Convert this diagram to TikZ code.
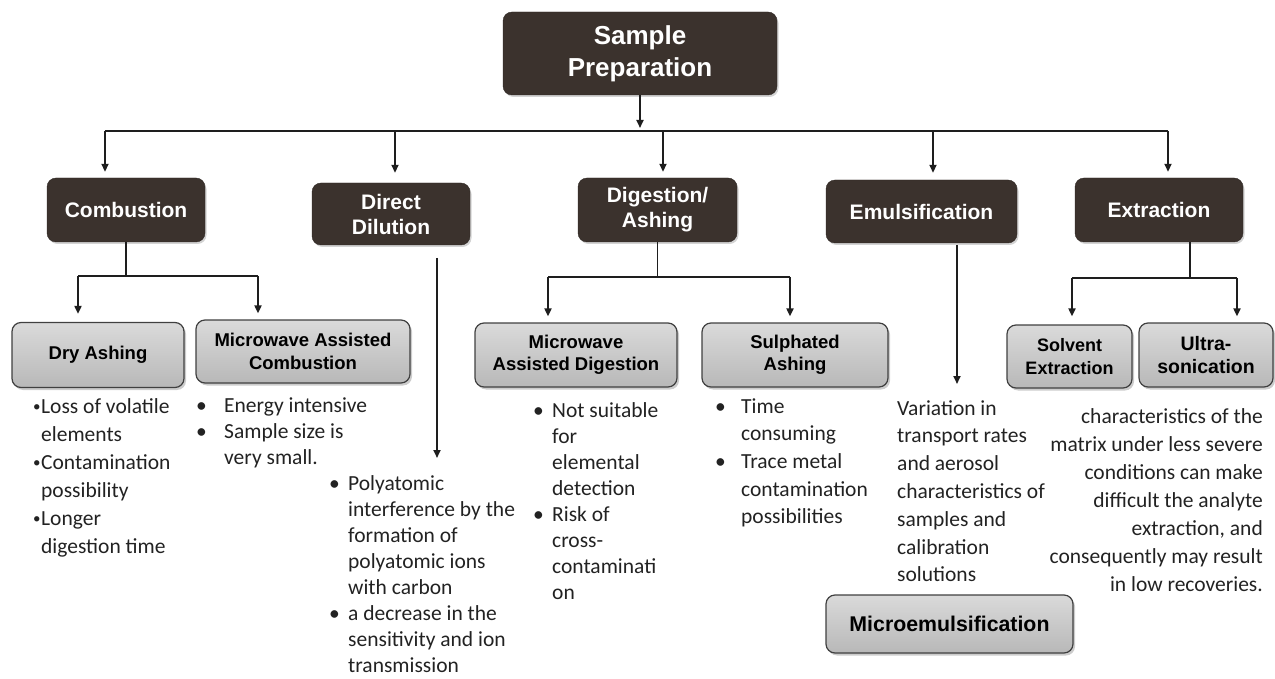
\documentclass[tikz,border=0pt]{standalone}
\usepackage{fontspec}
\setmainfont{Carlito}
\newfontfamily\hfont{Liberation Sans}
\usetikzlibrary{arrows.meta,shadows,calc}
\definecolor{darkbox}{HTML}{3B322D}
\definecolor{txt}{HTML}{222222}
\definecolor{graytop}{HTML}{DADADA}
\definecolor{graybot}{HTML}{B8B8B8}
\definecolor{lineclr}{HTML}{1E1E1E}
\newcommand\bul[1]{\makebox[#1][l]{•}}
\newcommand\sbul{\makebox[8pt][l]{\raisebox{1.5pt}{\fontsize{15}{15}\selectfont •}}}
\begin{document}
\begin{tikzpicture}[x=1pt,y=-1pt,
 darknode/.style={rounded corners=9pt, fill=darkbox, draw=darkbox!80!black, text=white,
   font=\hfont\bfseries\fontsize{21}{25}\selectfont, align=center, inner sep=0pt,
   drop shadow={opacity=0.35,shadow xshift=1.5pt,shadow yshift=-2pt}},
 graynode/.style={rounded corners=9pt, top color=graytop, bottom color=graybot, draw=black!75,
   line width=1.2pt, text=black, font=\hfont\bfseries\fontsize{18.5}{22.5}\selectfont,
   align=center, inner sep=0pt,
   drop shadow={opacity=0.4,shadow xshift=2pt,shadow yshift=-2.5pt}},
 conn/.style={draw=lineclr, line width=1.8pt},
 arr/.style={conn, -{Triangle[length=8pt,width=7pt]}},
 bodytext/.style={inner sep=0pt, text=txt}
]
\useasboundingbox (0,0) rectangle (1275,679);

% main nodes
\node[darknode, minimum width=274pt, minimum height=83pt, font=\hfont\bfseries\fontsize{26}{32}\selectfont] (sp) at (640,53.5) {Sample\\Preparation};
\node[darknode, minimum width=158pt, minimum height=64pt] (comb) at (126,210) {Combustion};
\node[darknode, minimum width=158pt, minimum height=62pt] (dd) at (391,214) {Direct\\Dilution};
\node[darknode, minimum width=159pt, minimum height=64pt] (dig) at (657.5,210) {Digestion/\\Ashing};
\node[darknode, minimum width=191pt, minimum height=63pt] (emu) at (921.5,211.5) {Emulsification};
\node[darknode, minimum width=168pt, minimum height=64pt] (ext) at (1159,210) {Extraction};

% sub nodes
\node[graynode, minimum width=172pt, minimum height=65pt] (da) at (98,355) {Dry Ashing};
\node[graynode, minimum width=214pt, minimum height=63pt] (mac) at (303,351.5) {Microwave Assisted\\Combustion};
\node[graynode, minimum width=202pt, minimum height=64pt] (mad) at (576,355) {Microwave\\Assisted Digestion};
\node[graynode, minimum width=186pt, minimum height=64pt] (sa) at (795,355) {Sulphated\\Ashing};
\node[graynode, minimum width=125pt, minimum height=63pt, font=\hfont\bfseries\fontsize{18}{22.5}\selectfont] (se) at (1069.5,356.5) {Solvent\\Extraction};
\node[graynode, minimum width=134pt, minimum height=64pt, font=\hfont\bfseries\fontsize{19.5}{23}\selectfont] (us) at (1206,355) {Ultra-\\sonication};
\node[graynode, minimum width=247pt, minimum height=58pt, font=\hfont\bfseries\fontsize{21.3}{25}\selectfont] (me) at (949.5,624) {Microemulsification};

% top bus
\coordinate (bl) at (105,131);
\coordinate (br) at (1168,131);
\coordinate (b2) at (395,131);
\coordinate (b3) at (663,131);
\coordinate (b4) at (933,131);
\draw[arr] (sp.south) -- (sp.south |- 0,128);
\draw[conn] (bl) -- (br);
\draw[arr, shorten >=6pt] (bl) -- (bl |- comb.north);
\draw[arr, shorten >=10pt] (b2) -- (b2 |- dd.north);
\draw[arr, shorten >=6pt] (b3) -- (b3 |- dig.north);
\draw[arr, shorten >=7pt] (b4) -- (b4 |- emu.north);
\draw[arr, shorten >=6pt] (br) -- (br |- ext.north);

% combustion branch
\coordinate (c1) at (78,276);
\coordinate (c2) at (258,276);
\draw[conn] (comb.south) -- (comb.south |- c1);
\draw[conn] (c1) -- (c2);
\draw[arr, shorten >=8pt] (c1) -- (c1 |- da.north);
\draw[arr, shorten >=6pt] (c2) -- (c2 |- mac.north);

% digestion branch
\coordinate (d1) at (548,277);
\coordinate (d2) at (790,277);
\draw[conn] (dig.south) -- (dig.south |- d1);
\draw[conn] (d1) -- (d2);
\draw[arr, shorten >=6pt] (d1) -- (d1 |- mad.north);
\draw[arr, shorten >=6pt] (d2) -- (d2 |- sa.north);

% extraction branch
\coordinate (e0) at (1190,242);
\coordinate (e1) at (1072,278);
\coordinate (e2) at (1237,278);
\draw[conn] (e0) -- (e0 |- e1);
\draw[conn] (e1) -- (e2);
\draw[arr, shorten >=8pt] (e1) -- (e1 |- se.north);
\draw[arr, shorten >=6pt] (e2) -- (e2 |- us.north);

% direct dilution and emulsification long arrows
\coordinate (dd1) at (437,258);
\coordinate (dd2) at (437,458);
\draw[arr] (dd1) -- (dd2);
\coordinate (em1) at (957,245);
\coordinate (em2) at (957,384);
\draw[arr] (em1) -- (em2);

% body texts
\node[bodytext, anchor=north west, font=\fontsize{21.5}{28}\selectfont] (t1) at (33,393.4)
 {\begin{tabular}{@{}l@{}l@{}}\sbul&Loss of volatile\\&elements\\\sbul&Contamination\\&possibility\\\sbul&Longer\\&digestion time\end{tabular}};
\node[bodytext, anchor=north west, font=\fontsize{21.5}{26}\selectfont] (t2) at (196,393.8)
 {\begin{tabular}{@{}l@{}l@{}}\bul{28pt}&Energy intensive\\\bul{28pt}&Sample size is\\&very small.\end{tabular}};
\node[bodytext, anchor=north west, font=\fontsize{21.5}{26.1}\selectfont] (t3) at (329,471.7)
 {\begin{tabular}{@{}l@{}l@{}}\bul{19pt}&Polyatomic\\&interference by the\\&formation of\\&polyatomic ions\\&with carbon\\\bul{19pt}&a decrease in the\\&sensitivity and ion\\&transmission\end{tabular}};
\node[bodytext, anchor=north west, font=\fontsize{21.5}{26.1}\selectfont] (t4) at (533,398.7)
 {\begin{tabular}{@{}l@{}l@{}}\bul{19pt}&Not suitable\\&for\\&elemental\\&detection\\\bul{19pt}&Risk of\\&cross-\\&contaminati\\&on\end{tabular}};
\node[bodytext, anchor=north west, font=\fontsize{21.5}{27.7}\selectfont] (t5) at (715,393.6)
 {\begin{tabular}{@{}l@{}l@{}}\bul{26pt}&Time\\&consuming\\\bul{26pt}&Trace metal\\&contamination\\&possibilities\end{tabular}};
\node[bodytext, anchor=north west, font=\fontsize{21.5}{27.8}\selectfont] (t6) at (897,395.5)
 {\begin{tabular}{@{}l@{}}Variation in\\transport rates\\and aerosol\\characteristics of\\samples and\\calibration\\solutions\end{tabular}};
\node[bodytext, anchor=north east, font=\fontsize{21.5}{28}\selectfont] (t7) at (1263,403.4)
 {\begin{tabular}{@{}r@{}}characteristics of the\\matrix under less severe\\conditions can make\\difficult the analyte\\extraction, and\\consequently may result\\in low recoveries.\end{tabular}};
\end{tikzpicture}
\end{document}
